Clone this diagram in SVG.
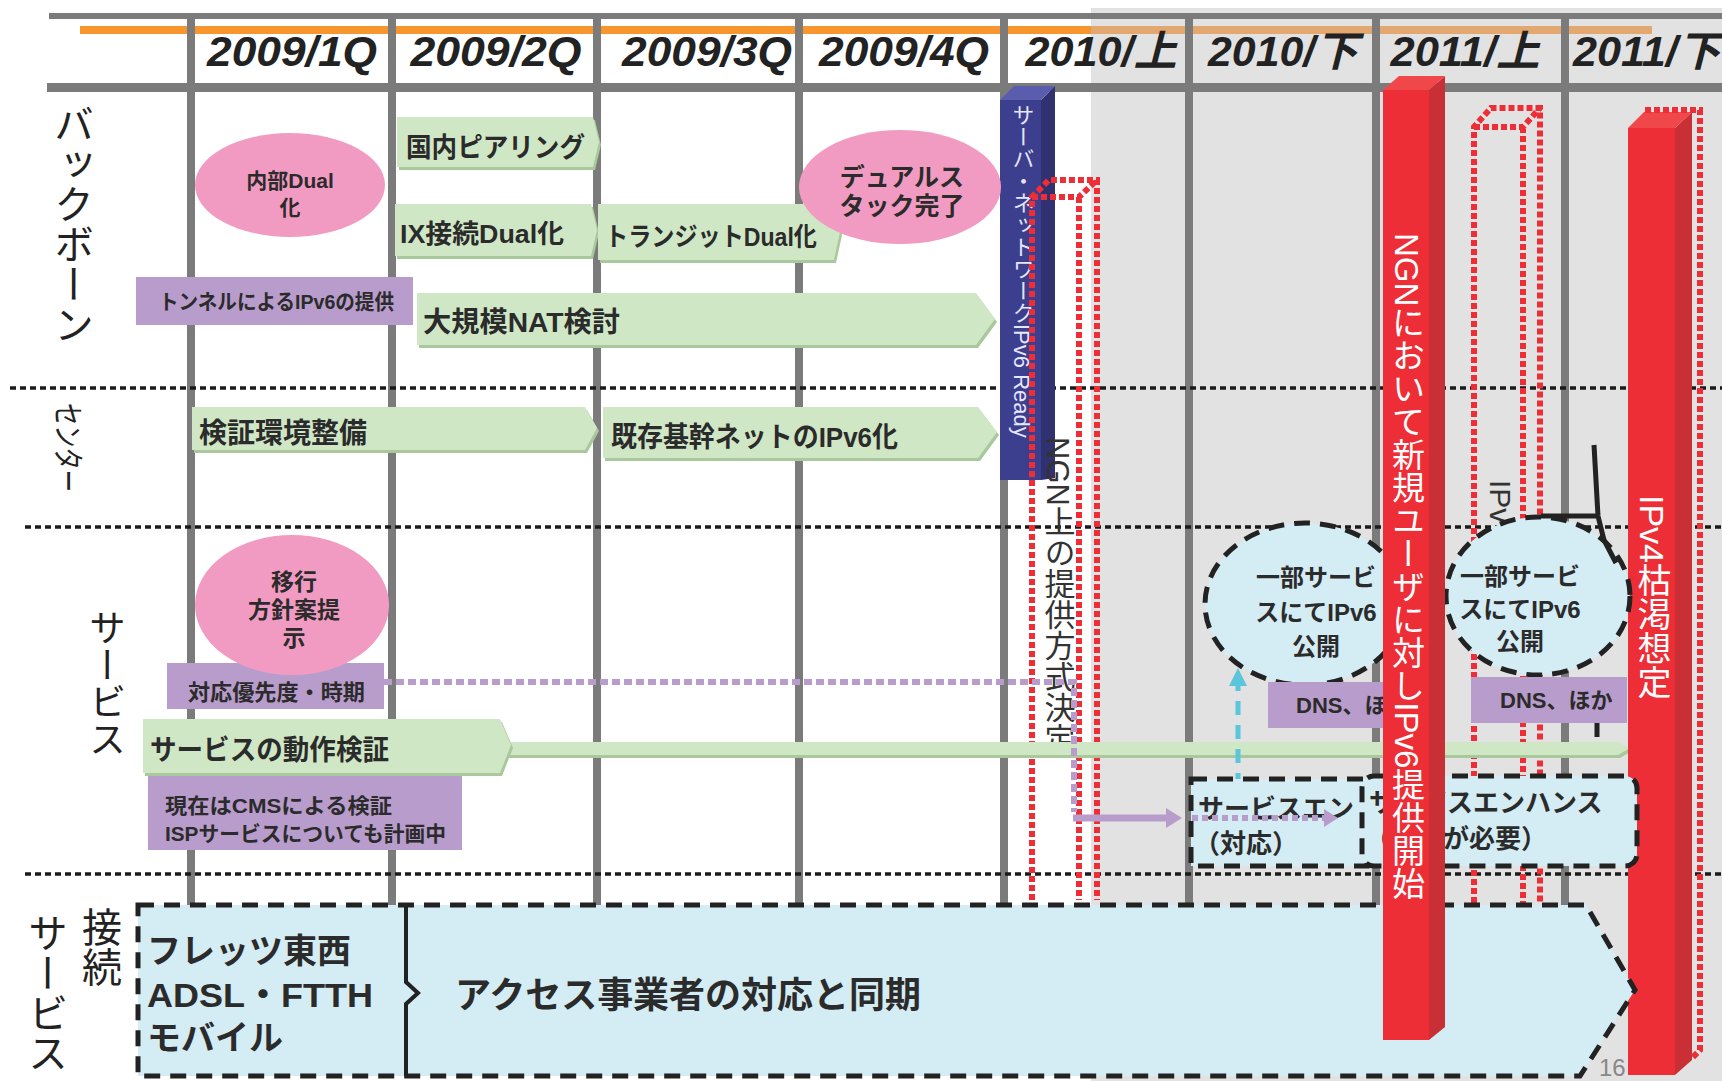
<svg xmlns="http://www.w3.org/2000/svg" width="1722" height="1081" viewBox="0 0 1722 1081">
<defs>
<style>
.hdr{font-family:'Liberation Sans','Noto Sans CJK JP',sans-serif;font-style:italic;font-weight:bold;font-size:42px;fill:#222;text-anchor:middle}
.lbl{font-family:'Liberation Sans','Noto Sans CJK JP',sans-serif;fill:#222}
.vt{writing-mode:vertical-rl}
.b{font-family:'Liberation Sans','Noto Sans CJK JP',sans-serif;font-weight:bold;fill:#2b2b2b}
.n{font-family:'Liberation Sans','Noto Sans CJK JP',sans-serif;fill:#2b2b2b}
.grid{stroke:#7b7b7b;stroke-width:8}
.sep{stroke:#1a1a1a;stroke-width:3.5;stroke-dasharray:6 4;fill:none}
.gf{fill:#d0e7c6}
.gs{fill:#a9c89c}
.pk{fill:#f29bc2}
.pu{fill:#b89ccb}
.lb{fill:#d4ecf4;stroke:#222;stroke-width:5;stroke-dasharray:16 10}
.rdot{fill:none;stroke:#ee2e36;stroke-width:6;stroke-dasharray:6 3}
.rf{fill:#ee2e36}.rs{fill:#c93035}.rt{fill:#f0474a}
</style>
</defs>
<rect width="1722" height="1081" fill="#fff"/>
<rect x="1091" y="8" width="631" height="1073" fill="#e2e2e2"/>

<g id="grid">
<line x1="49" y1="16" x2="1722" y2="16" stroke="#7b7b7b" stroke-width="6"/>
<line x1="80" y1="30" x2="1091" y2="30" stroke="#f7962e" stroke-width="8"/>
<line x1="1091" y1="30" x2="1652" y2="30" stroke="#e2a870" stroke-width="8"/>
<line x1="47" y1="87.5" x2="1722" y2="87.5" stroke="#7b7b7b" stroke-width="9"/>
<line class="grid" x1="191" y1="13" x2="191" y2="905"/>
<line class="grid" x1="392" y1="13" x2="392" y2="905"/>
<line class="grid" x1="597" y1="13" x2="597" y2="905"/>
<line class="grid" x1="799" y1="13" x2="799" y2="905"/>
<line class="grid" x1="1004" y1="13" x2="1004" y2="905" stroke-width="12"/>
<line class="grid" x1="1189" y1="13" x2="1189" y2="905"/>
<line class="grid" x1="1376" y1="13" x2="1376" y2="905"/>
<line class="grid" x1="1565" y1="13" x2="1565" y2="905"/>
<line class="sep" x1="10" y1="388" x2="1722" y2="388"/>
<line class="sep" x1="25" y1="527" x2="1722" y2="527"/>
<line class="sep" x1="25" y1="874" x2="1722" y2="874"/>
</g>

<g id="headers">
<text class="hdr" x="292" y="66" textLength="170" lengthAdjust="spacingAndGlyphs">2009/1Q</text>
<text class="hdr" x="496" y="66" textLength="171" lengthAdjust="spacingAndGlyphs">2009/2Q</text>
<text class="hdr" x="707" y="66" textLength="170" lengthAdjust="spacingAndGlyphs">2009/3Q</text>
<text class="hdr" x="904" y="66" textLength="170" lengthAdjust="spacingAndGlyphs">2009/4Q</text>
<text class="hdr" x="1101" y="66" textLength="151" lengthAdjust="spacingAndGlyphs">2010/上</text>
<text class="hdr" x="1283" y="66" textLength="150" lengthAdjust="spacingAndGlyphs">2010/下</text>
<text class="hdr" x="1465" y="66" textLength="149" lengthAdjust="spacingAndGlyphs">2011/上</text>
<text class="hdr" x="1573" y="66" style="text-anchor:start" textLength="148" lengthAdjust="spacingAndGlyphs">2011/下</text>
</g>

<g id="row-labels">
<text class="lbl vt" x="71" y="104" font-size="40">バックボーン</text>
<text class="lbl" transform="translate(57,403) rotate(90)" font-size="31" textLength="89" lengthAdjust="spacingAndGlyphs">センター</text>
<text class="lbl vt" x="104" y="609" font-size="37">サービス</text>
<text class="lbl vt" x="99" y="907" font-size="40">接続</text>
<text class="lbl vt" x="45" y="913" font-size="40">サービス</text>
</g>

<g id="server-ready-bar">
<polygon points="1000,100 1041,100 1041,480 1000,480" fill="#3c3e8e"/>
<polygon points="1041,100 1055,86 1055,478 1041,480" fill="#2f3170"/>
<polygon points="1000,100 1014,86 1055,86 1041,100" fill="#5a5cae"/>
<text class="n vt" x="1021" y="104" font-size="22" style="fill:#e6e6ff">サーバ・ネットワークIPv6 Ready</text>
</g>

<g id="ngn-decision">
<path class="rdot" d="M1032,900 V197 L1049,180 H1097 V900 M1032,197 H1079 L1097,180 M1079,197 V900"/>
<text class="n vt" x="1057" y="437" font-size="31" style="fill:#333">NGN上の提供方式決定</text>
</g>

<g id="ipv6-planned">
<path class="rdot" d="M1474,903 V127 L1491,108 H1540 V903 M1474,127 H1523 L1540,108 M1523,127 V903"/>
<text class="n vt" x="1500" y="480" font-size="30" style="fill:#333">IPv</text>
</g>

<g id="naibu-dual">
<ellipse class="pk" cx="290" cy="185" rx="95" ry="52"/>
<text class="b" x="290" y="188" font-size="21" text-anchor="middle">内部Dual</text>
<text class="b" x="290" y="215" font-size="21" text-anchor="middle">化</text>
</g>

<g id="kokunai-peering">
<polygon class="gs" points="399,120 595,120 601,145 595,170 399,170"/>
<polygon class="gf" points="397,117 593,117 599,142 593,167 397,167"/>
<text class="b" x="406" y="157" font-size="27" textLength="179" lengthAdjust="spacingAndGlyphs">国内ピアリング</text>
</g>

<g id="ix-dual">
<polygon class="gs" points="397,207 593,207 599,233 593,259 397,259"/>
<polygon class="gf" points="395,204 591,204 597,230 591,256 395,256"/>
<text class="b" x="400" y="243" font-size="26" textLength="164" lengthAdjust="spacingAndGlyphs">IX接続Dual化</text>
</g>

<g id="transit-dual">
<polygon class="gs" points="600,207 836,207 842,235 836,263 600,263"/>
<polygon class="gf" points="598,204 834,204 840,232 834,260 598,260"/>
<text class="b" x="605" y="246" font-size="26" textLength="212" lengthAdjust="spacingAndGlyphs">トランジットDual化</text>
</g>

<g id="dual-stack-done">
<ellipse class="pk" cx="900" cy="187" rx="101" ry="57"/>
<text class="b" x="902" y="186" font-size="25" text-anchor="middle">デュアルス</text>
<text class="b" x="902" y="215" font-size="25" text-anchor="middle">タック完了</text>
</g>

<g id="tunnel-ipv6">
<rect class="pu" x="136" y="277" width="277" height="48"/>
<text class="b" x="159" y="309" font-size="21" textLength="235" lengthAdjust="spacingAndGlyphs">トンネルによるIPv6の提供</text>
</g>

<g id="large-nat">
<polygon class="gs" points="419,296 978,296 997,322 978,348 419,348"/>
<polygon class="gf" points="417,293 976,293 995,319 976,345 417,345"/>
<text class="b" x="423" y="332" font-size="28" textLength="197" lengthAdjust="spacingAndGlyphs">大規模NAT検討</text>
</g>

<g id="verify-env">
<polygon class="gs" points="194,410 587,410 599,431 587,453 194,453"/>
<polygon class="gf" points="192,407 585,407 597,428 585,450 192,450"/>
<text class="b" x="199" y="443" font-size="28" textLength="168" lengthAdjust="spacingAndGlyphs">検証環境整備</text>
</g>

<g id="backbone-ipv6">
<polygon class="gs" points="605,410 980,410 999,435 980,461 605,461"/>
<polygon class="gf" points="603,407 978,407 997,432 978,458 603,458"/>
<text class="b" x="611" y="447" font-size="28" textLength="287" lengthAdjust="spacingAndGlyphs">既存基幹ネットのIPv6化</text>
</g>

<g id="priority-timing">
<rect class="pu" x="167" y="663" width="217" height="46"/>
<text class="b" x="188" y="700" font-size="22" textLength="177" lengthAdjust="spacingAndGlyphs">対応優先度・時期</text>
</g>

<g id="migration-policy">
<ellipse class="pk" cx="292" cy="605" rx="97" ry="70"/>
<text class="b" x="294" y="590" font-size="23" text-anchor="middle">移行</text>
<text class="b" x="294" y="618" font-size="23" text-anchor="middle">方針案提</text>
<text class="b" x="294" y="646" font-size="23" text-anchor="middle">示</text>
</g>

<g id="service-verify">
<polygon class="gs" points="502,745 1620,745 1632,751 1620,758 502,758"/>
<polygon class="gf" points="500,742 1618,742 1630,748 1618,755 500,755"/>
<polygon class="gs" points="145,722 502,722 513,748 502,776 145,776"/>
<polygon class="gf" points="143,719 500,719 511,745 500,773 143,773"/>
<text class="b" x="150" y="760" font-size="28" textLength="239" lengthAdjust="spacingAndGlyphs">サービスの動作検証</text>
</g>

<g id="cms-note">
<rect class="pu" x="148" y="776" width="314" height="74"/>
<text class="b" x="165" y="813" font-size="21" textLength="227" lengthAdjust="spacingAndGlyphs">現在はCMSによる検証</text>
<text class="b" x="165" y="841" font-size="21" textLength="281" lengthAdjust="spacingAndGlyphs">ISPサービスについても計画中</text>
</g>

<g id="ipv4-exhaustion">
<polygon class="rf" points="1628,128 1675,128 1675,1075 1628,1075"/>
<polygon class="rs" points="1675,128 1692,112 1692,1060 1675,1075"/>
<polygon class="rt" points="1628,128 1644,112 1692,112 1675,128"/>
<path class="rdot" d="M1645,110 H1700 V1050 L1692,1058"/>
<text class="n vt" x="1652" y="495" font-size="34" style="fill:#fff">IPv4枯渇想定</text>
</g>

<g id="connectors">
<path d="M384,682 H1074 V812" fill="none" stroke="#b89ccb" stroke-width="6" stroke-dasharray="8 4"/>
<line x1="1073" y1="818" x2="1168" y2="818" stroke="#b89ccb" stroke-width="7"/>
<polygon points="1182,818 1166,808 1166,828" fill="#b89ccb"/>
<line x1="1238" y1="787" x2="1238" y2="684" stroke="#5bc5dc" stroke-width="5" stroke-dasharray="14 10"/>
<polygon points="1238,668 1229,686 1247,686" fill="#5bc5dc"/>
</g>

<g id="svc-enhance-1">
<rect class="lb" x="1191" y="779" width="176" height="87"/>
<text class="b" x="1198" y="818" font-size="26">サービスエン</text>
<text class="b" x="1194" y="853" font-size="26">（対応）</text>
<line x1="1192" y1="818" x2="1325" y2="818" stroke="#b89ccb" stroke-width="6" stroke-dasharray="6 4"/>
<polygon points="1338,818 1324,809 1324,827" fill="#b89ccb"/>
</g>

<g id="svc-enhance-2">
<rect class="lb" x="1362" y="776" width="275" height="90" rx="12"/>
<text class="b" x="1369" y="812" font-size="26">サービスエンハンス</text>
<text class="b" x="1365" y="848" font-size="26">（対応が必要）</text>
</g>

<g id="partial-ipv6-1">
<ellipse class="lb" cx="1305" cy="604" rx="100" ry="81"/>
<text class="b" x="1316" y="586" font-size="24" text-anchor="middle">一部サービ</text>
<text class="b" x="1316" y="621" font-size="24" text-anchor="middle">スにてIPv6</text>
<text class="b" x="1316" y="655" font-size="24" text-anchor="middle">公開</text>
</g>

<g id="dns-1">
<rect class="pu" x="1268" y="682" width="132" height="46"/>
<text class="b" x="1296" y="713" font-size="22">DNS、ほか</text>
</g>

<g id="partial-ipv6-2">
<ellipse class="lb" cx="1538" cy="596" rx="92" ry="79"/>
<path d="M1541,516 H1598 M1594,445 L1598,516 L1604,540 L1616,563 M1597,722 V737" fill="none" stroke="#222" stroke-width="5"/>
<text class="b" x="1520" y="585" font-size="24" text-anchor="middle">一部サービ</text>
<text class="b" x="1520" y="618" font-size="24" text-anchor="middle">スにてIPv6</text>
<text class="b" x="1520" y="650" font-size="24" text-anchor="middle">公開</text>
</g>

<g id="dns-2">
<rect class="pu" x="1471" y="677" width="156" height="46"/>
<text class="b" x="1500" y="708" font-size="22">DNS、ほか</text>
</g>

<g id="access-sync">
<path class="lb" d="M138,905 H1586 L1635,990 L1580,1076 H138 Z"/>
<path d="M406,905 V982 L418,993 L406,1004 V1076" fill="none" stroke="#222" stroke-width="4"/>
<text class="b" x="147" y="963" font-size="34">フレッツ東西</text>
<text class="b" x="147" y="1007" font-size="34" textLength="226" lengthAdjust="spacingAndGlyphs">ADSL・FTTH</text>
<text class="b" x="147" y="1050" font-size="34">モバイル</text>
<text class="b" x="455" y="1008" font-size="36" textLength="466" lengthAdjust="spacingAndGlyphs">アクセス事業者の対応と同期</text>
<text class="n" x="1599" y="1076" font-size="24" style="fill:#888">16</text>
</g>

<g id="ngn-ipv6-start">
<polygon class="rf" points="1383,90 1429,90 1429,1040 1383,1040"/>
<polygon class="rs" points="1429,90 1445,76 1445,1027 1429,1040"/>
<polygon class="rt" points="1383,90 1399,76 1445,76 1429,90"/>
<text class="n vt" x="1406" y="233" font-size="33" style="fill:#fff">NGNにおいて新規ユーザに対しIPv6提供開始</text>
</g>
</svg>
